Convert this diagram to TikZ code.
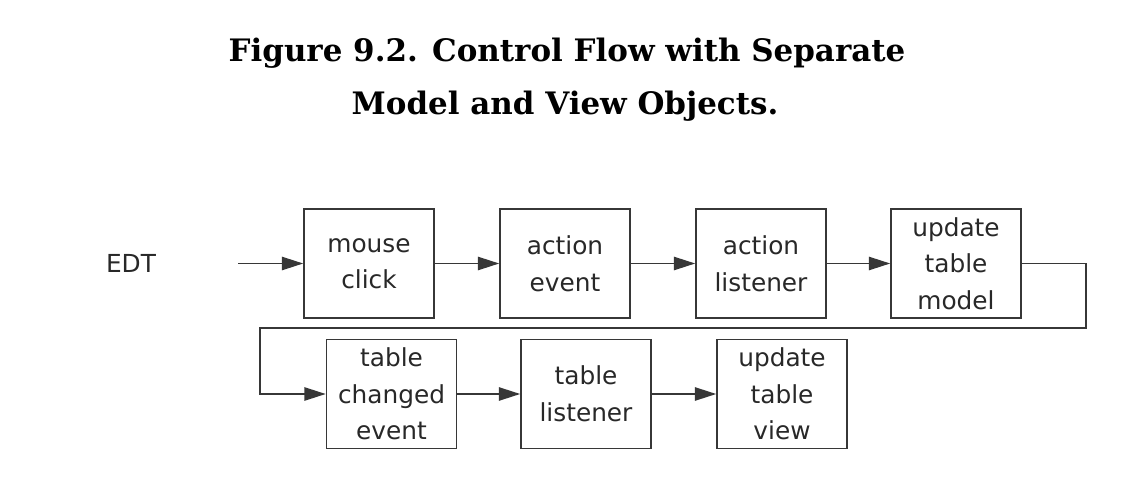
\documentclass[tikz,border=0pt]{standalone}
\usepackage{fontspec}
\setmainfont{DejaVu Sans}
\newfontfamily\titlefont{DejaVu Serif}
\usepackage{xcolor}
\usepackage{tikz}
\usetikzlibrary{positioning,arrows.meta}
\definecolor{flowink}{RGB}{40,40,40}
\definecolor{flowline}{RGB}{55,55,55}

\begin{document}
\begin{tikzpicture}[
  x=0.75pt, y=-0.75pt,
  stage/.style={draw=flowline, line width=1.2pt, align=center, inner sep=0pt,
    minimum width=97.5pt, minimum height=81.75pt, text=flowink,
    font=\fontsize{18.6}{27.4}\selectfont},
  arr/.style={-{Triangle[length=16pt,width=10pt]}, line width=1.2pt, draw=flowline},
  caption/.style={anchor=base, font=\titlefont\bfseries\fontsize{23.2}{28}\selectfont}
]
  \useasboundingbox (0,0) rectangle (1144,498);

  % --- Title ---
  \node[caption] (titleA) at (567,62)  {Figure 9.2. Control Flow with Separate};
  \node[caption] (titleB) at (565,115) {Model and View Objects.};

  % --- Row 1: event dispatch ---
  \node[text=flowink, font=\fontsize{18.6}{27.4}\selectfont] (edt) at (131,263) {EDT};
  \coordinate (start) at (238,263.5);
  \node[stage] (click)    at (369,263.5) {mouse\\click};
  \node[stage] (action)   at (565,263.5) {action\\event};
  \node[stage] (listener) at (761,263.5) {action\\listener};
  \node[stage] (model)    at (956,263.5) {update\\table\\model};

  % --- Row 2: view update ---
  \node[stage] (changed)  at (391.5,394) {table\\changed\\event};
  \node[stage] (tablel)   at (586,394)   {table\\listener};
  \node[stage] (view)     at (782,394)   {update\\table\\view};

  % --- Arrows ---
  \draw[arr] (start)    -- (click);
  \draw[arr] (click)    -- (action);
  \draw[arr] (action)   -- (listener);
  \draw[arr] (listener) -- (model);
  \draw[arr] (changed)  -- (tablel);
  \draw[arr] (tablel)   -- (view);

  % --- Wrap from row 1 to row 2 ---
  \coordinate (wrapR) at (1086,328);
  \coordinate (wrapL) at (260,328);
  \draw[arr] (model.east) -| (wrapR) -- (wrapL) |- (changed.west);
\end{tikzpicture}
\end{document}
